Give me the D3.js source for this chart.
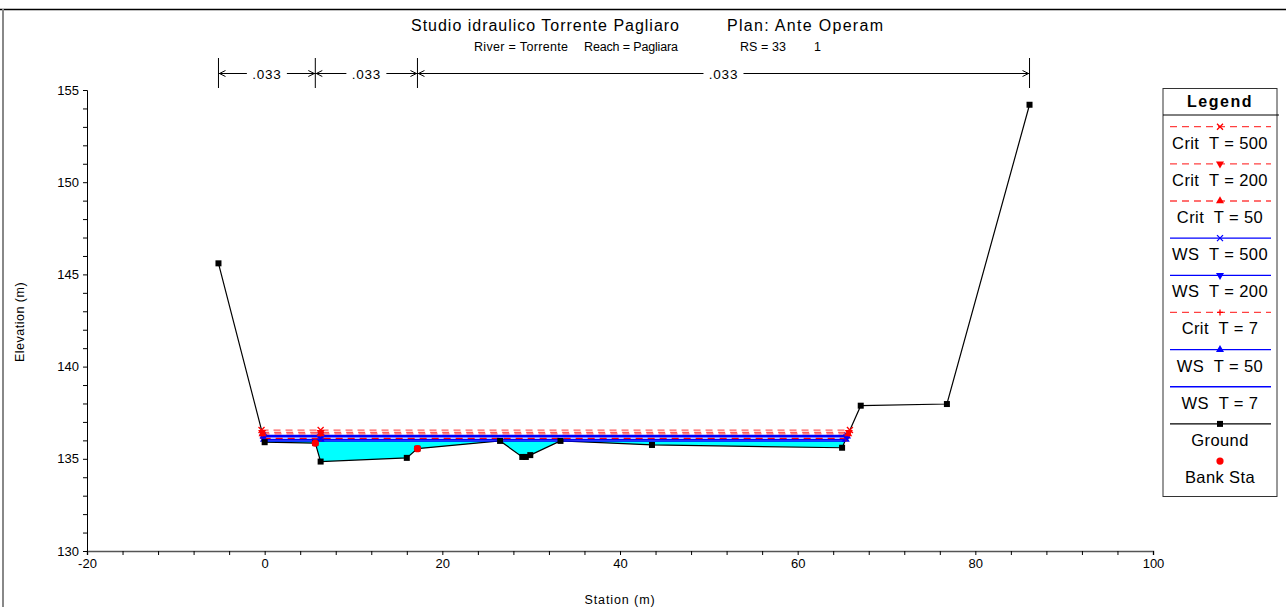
<!DOCTYPE html>
<html><head><meta charset="utf-8">
<script src="https://cdn.jsdelivr.net/npm/d3@7"></script>
<style>body{margin:0;background:#fff}svg{display:block;font-family:"Liberation Sans",Arial,sans-serif}</style>
</head><body><svg id="c" width="1286" height="607"></svg>
<script>
// ---- data ----
const groundSta  = [-5.2, 0.0, 5.7, 6.3, 16.0, 17.2, 26.5, 29.0, 29.4, 29.9, 33.3, 43.6, 65.0, 67.1, 76.8, 86.1];
const groundElev = [145.6, 135.9, 135.85, 134.85, 135.05, 135.55, 135.97, 135.1, 135.1, 135.2, 135.97, 135.75, 135.6, 137.88, 137.97, 154.2];
const bankSta  = [5.7, 17.2];
const bankElev = [135.85, 135.55];
const profileNames = ["Crit  T = 500", "Crit  T = 200", "Crit  T = 50", "WS  T = 500", "WS  T = 200", "Crit  T = 7", "WS  T = 50", "WS  T = 7"];
const profileElev  = [136.56, 136.43, 136.35, 136.26, 136.2, 136.11, 136.05, 135.97];
const profileKind  = ["crit", "crit", "crit", "ws", "ws", "crit", "ws", "ws"];
const profileMark  = ["x", "tdown", "tup", "x", "tdown", "plus", "tup", "none"];
const markerMidSta = [6.3];
const nStations = [-5.2, 5.7, 17.2, 86.1];
const nValues   = [".033", ".033", ".033"];
const xTicks = [-20, 0, 20, 40, 60, 80, 100];
const yTicks = [130, 135, 140, 145, 150, 155];
const titleParts = ["Studio idraulico Torrente Pagliaro", "Plan: Ante Operam"];
const subParts = ["River = Torrente", "Reach = Pagliara", "RS = 33", "1"];

// ---- setup ----
const svg = d3.select("#c");
const x = d3.scaleLinear().domain([-20, 100]).range([87, 1153]);
const y = d3.scaleLinear().domain([130, 155]).range([551, 90]);
const ground = groundSta.map((s, i) => ({s, e: groundElev[i]}));
const RED = "#ff0000", BLUE = "#0000ff";

// frame
svg.append("line").attr("x1", 0).attr("x2", 1286).attr("y1", 9.5).attr("y2", 9.5).attr("stroke", "#000").attr("stroke-width", 1.5);
svg.append("line").attr("x1", 3).attr("x2", 3).attr("y1", 9).attr("y2", 607).attr("stroke", "#888").attr("stroke-width", 2);

// titles
const titleX = [411, 727], titleW = [268, 156];
titleParts.forEach((t, i) => svg.append("text").attr("x", titleX[i]).attr("y", 31).attr("font-size", 16)
  .attr("textLength", titleW[i]).attr("lengthAdjust", "spacing").text(t));
const subX = [474, 584, 740, 814], subW = [94, 94, 46, 0];
subParts.forEach((t, i) => {
  const tx = svg.append("text").attr("x", subX[i]).attr("y", 51).attr("font-size", 12.5).text(t);
  if (subW[i]) tx.attr("textLength", subW[i]).attr("lengthAdjust", "spacing");
});

// axes
const xAxis = d3.axisBottom(x).tickValues(d3.range(-20, 101, 4)).tickSize(4).tickPadding(4)
  .tickFormat(d => xTicks.includes(d) ? d : "");
const gx = svg.append("g").attr("transform", "translate(0,551)").call(xAxis);
gx.select(".domain").attr("stroke", "#555").attr("stroke-width", 1.5);
gx.selectAll("text").attr("font-size", 13).attr("font-family", "Liberation Sans, Arial, sans-serif");
const yAxis = d3.axisLeft(y).tickValues(d3.range(130, 155.01, 1)).tickSize(4).tickPadding(4)
  .tickFormat(d => yTicks.includes(d) ? d : "");
const gy = svg.append("g").attr("transform", "translate(87,0)").call(yAxis);
gy.selectAll("text").attr("font-size", 13).attr("font-family", "Liberation Sans, Arial, sans-serif");
svg.append("text").attr("x", 620).attr("y", 604).attr("text-anchor", "middle").attr("font-size", 12.5)
  .attr("letter-spacing", 0.9).text("Station (m)");
svg.append("text").attr("transform", "translate(24,322) rotate(-90)").attr("text-anchor", "middle").attr("font-size", 12.5)
  .attr("letter-spacing", 0.5).text("Elevation (m)");

// ---- geometry helpers ----
function groundAt(s) {
  for (let i = 0; i < ground.length - 1; i++) {
    const a = ground[i], b = ground[i + 1];
    if (s >= a.s && s <= b.s) return a.e + (b.e - a.e) * (s - a.s) / (b.s - a.s);
  }
  return NaN;
}
function extents(level) {
  let L = null, R = null;
  for (let i = 0; i < ground.length - 1 && L === null; i++) {
    const a = ground[i], b = ground[i + 1];
    if (a.e >= level && b.e < level) L = a.s + (b.s - a.s) * (a.e - level) / (a.e - b.e);
  }
  for (let i = ground.length - 1; i > 0 && R === null; i--) {
    const a = ground[i - 1], b = ground[i];
    if (b.e >= level && a.e < level) R = a.s + (b.s - a.s) * (level - a.e) / (b.e - a.e);
  }
  return [L, R];
}

// ---- water fill (lowest WS profile) ----
const fillLevel = profileElev[profileElev.length - 1];
const [fL, fR] = extents(fillLevel);
let pts = [fL];
for (let i = 0; i < ground.length - 1; i++) {
  const a = ground[i], b = ground[i + 1];
  if (a.s > fL && a.s < fR) pts.push(a.s);
  if ((a.e - fillLevel) * (b.e - fillLevel) < 0) {
    const t = a.s + (b.s - a.s) * (a.e - fillLevel) / (a.e - b.e);
    if (t > fL && t < fR) pts.push(t);
  }
}
pts.push(fR);
pts.sort((p, q) => p - q);
const area = d3.area().x(d => x(d)).y0(() => y(fillLevel)).y1(d => y(Math.min(groundAt(d), fillLevel)));
svg.append("path").datum(pts).attr("d", area).attr("fill", "#00ffff");

// ---- ground line ----
const line = d3.line().x(d => x(d.s)).y(d => y(d.e));
svg.append("path").datum(ground).attr("d", line).attr("fill", "none").attr("stroke", "#000").attr("stroke-width", 1.2);

// ---- marker drawing ----
function drawMarker(g, type, cx, cy, color) {
  if (type === "x") {
    g.append("path").attr("d", `M${cx-3},${cy-3}L${cx+3},${cy+3}M${cx-3},${cy+3}L${cx+3},${cy-3}`).attr("stroke", color).attr("stroke-width", 1.3);
  } else if (type === "plus") {
    g.append("path").attr("d", `M${cx-3},${cy}L${cx+3},${cy}M${cx},${cy-3}L${cx},${cy+3}`).attr("stroke", color).attr("stroke-width", 1.3);
  } else if (type === "tup") {
    g.append("path").attr("d", d3.symbol(d3.symbolTriangle, 28)()).attr("transform", `translate(${cx},${cy})`).attr("fill", color);
  } else if (type === "tdown") {
    g.append("path").attr("d", d3.symbol(d3.symbolTriangle, 28)()).attr("transform", `translate(${cx},${cy}) rotate(180)`).attr("fill", color);
  } else if (type === "square") {
    g.append("rect").attr("x", cx - 3).attr("y", cy - 3).attr("width", 6).attr("height", 6).attr("fill", color);
  } else if (type === "circle") {
    g.append("circle").attr("cx", cx).attr("cy", cy).attr("r", 3.6).attr("fill", color);
  }
}

// ---- profile lines (draw from lowest to highest) ----
const gp = svg.append("g");
for (let k = profileElev.length - 1; k >= 0; k--) {
  const lev = profileElev[k];
  const [L, R] = extents(lev);
  const col = profileKind[k] === "crit" ? RED : BLUE;
  const ln = gp.append("line").attr("x1", x(L)).attr("x2", x(R)).attr("y1", y(lev)).attr("y2", y(lev))
    .attr("stroke", col).attr("stroke-width", profileKind[k] === "crit" ? 1.3 : 1.5);
  if (profileKind[k] === "crit") ln.attr("stroke-dasharray", "7,5").attr("stroke-opacity", k < 3 ? 0.65 : 1);
  if (profileMark[k] !== "none") {
    [L, ...markerMidSta, R].forEach(s => drawMarker(gp, profileMark[k], x(s), y(lev), col));
  }
}

// ground markers & bank stations
const gm = svg.append("g");
ground.forEach(d => drawMarker(gm, "square", x(d.s), y(d.e), "#000"));
bankSta.forEach((s, i) => drawMarker(gm, "circle", x(s), y(bankElev[i]), RED));

// ---- Manning's n bar ----
const gn = svg.append("g").attr("stroke", "#000").attr("stroke-width", 1);
nStations.forEach(s => gn.append("line").attr("x1", x(s)).attr("x2", x(s)).attr("y1", 58).attr("y2", 88));
nValues.forEach((v, i) => {
  const a = x(nStations[i]), b = x(nStations[i + 1]), m = (a + b) / 2;
  const tw = 34;
  gn.append("line").attr("x1", a).attr("x2", m - tw / 2 - 3).attr("y1", 73.5).attr("y2", 73.5);
  gn.append("line").attr("x1", m + tw / 2 + 3).attr("x2", b).attr("y1", 73.5).attr("y2", 73.5);
  gn.append("path").attr("fill", "none").attr("d", `M${a + 7},${70.5}L${a + 1},${73.5}L${a + 7},${76.5}`);
  gn.append("path").attr("fill", "none").attr("d", `M${b - 7},${70.5}L${b - 1},${73.5}L${b - 7},${76.5}`);
  svg.append("text").attr("x", m).attr("y", 78.5).attr("text-anchor", "middle").attr("font-size", 13.5)
    .attr("letter-spacing", 0.8).text(v);
});

// ---- legend ----
const lg = svg.append("g");
lg.append("rect").attr("x", 1163).attr("y", 88.5).attr("width", 114).attr("height", 408).attr("fill", "#fff").attr("stroke", "#333").attr("stroke-width", 1);
lg.append("line").attr("x1", 1163).attr("x2", 1279).attr("y1", 115).attr("y2", 115).attr("stroke", "#000");
lg.append("text").attr("x", 1220).attr("y", 106.5).attr("text-anchor", "middle").attr("font-size", 16).attr("font-weight", "bold")
  .attr("letter-spacing", 1.5).text("Legend");
const legItems = profileNames.map((n, k) => ({name: n, kind: profileKind[k], mark: profileMark[k], k}));
legItems.push({name: "Ground", kind: "ground", mark: "square"});
legItems.push({name: "Bank Sta", kind: "bank", mark: "circle"});
legItems.forEach((it, i) => {
  const ly = 126.7 + i * 37.15;
  if (it.kind !== "bank") {
    const col = it.kind === "crit" ? RED : it.kind === "ws" ? BLUE : "#000";
    const l = lg.append("line").attr("x1", 1170).attr("x2", 1271).attr("y1", ly).attr("y2", ly).attr("stroke", col).attr("stroke-width", 1.3);
    if (it.kind === "crit") l.attr("stroke-dasharray", "7,5").attr("stroke-opacity", 0.75);
  }
  const col = it.kind === "crit" || it.kind === "bank" ? RED : it.kind === "ws" ? BLUE : "#000";
  if (it.mark !== "none") drawMarker(lg, it.mark, 1220, ly, col);
  lg.append("text").attr("x", 1220).attr("y", ly + 22).attr("text-anchor", "middle").attr("font-size", 16.5)
    .attr("letter-spacing", 0.4).style("white-space", "pre").text(it.name);
});
</script></body></html>
